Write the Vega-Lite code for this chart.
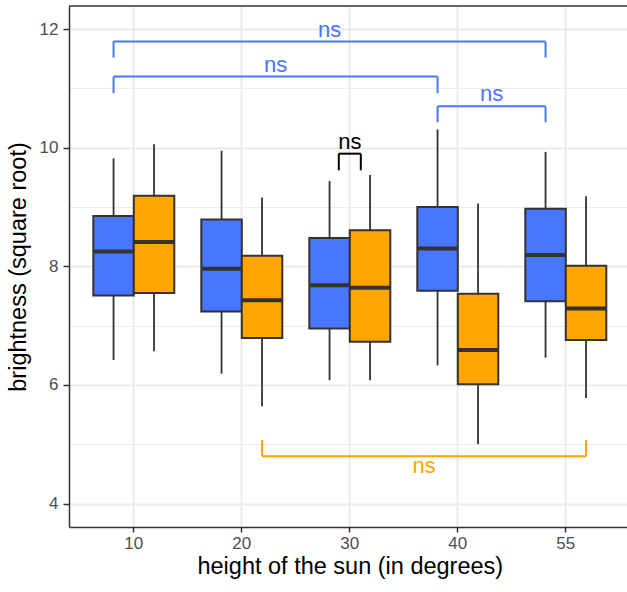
{
  "$schema": "https://vega.github.io/schema/vega-lite/v6.json",
  "width": 558,
  "height": 521,
  "autosize": {"type": "none"},
  "padding": {"left": 69, "top": 6, "right": 0, "bottom": 65},
  "background": "white",
  "config": {
    "font": "Liberation Sans",
    "view": {"stroke": null},
    "axis": {
      "domainColor": "#333333",
      "domainWidth": 1.5,
      "tickColor": "#333333",
      "tickWidth": 1.5,
      "labelColor": "#4D4D4D",
      "labelFontSize": 17,
      "titleFontSize": 23.5,
      "titleFontWeight": "normal",
      "titleColor": "#000000",
      "gridColor": "#EBEBEB"
    }
  },
  "datasets": {
    "boxes": [
      {"sun": "10", "group": "A", "lower": 6.42, "q1": 7.51, "median": 8.25, "q3": 8.85, "upper": 9.82},
      {"sun": "10", "group": "B", "lower": 6.57, "q1": 7.55, "median": 8.41, "q3": 9.19, "upper": 10.06},
      {"sun": "20", "group": "A", "lower": 6.19, "q1": 7.24, "median": 7.96, "q3": 8.79, "upper": 9.95},
      {"sun": "20", "group": "B", "lower": 5.64, "q1": 6.79, "median": 7.43, "q3": 8.18, "upper": 9.16},
      {"sun": "30", "group": "A", "lower": 6.08, "q1": 6.95, "median": 7.68, "q3": 8.48, "upper": 9.44},
      {"sun": "30", "group": "B", "lower": 6.08, "q1": 6.73, "median": 7.64, "q3": 8.61, "upper": 9.54},
      {"sun": "40", "group": "A", "lower": 6.33, "q1": 7.59, "median": 8.30, "q3": 9.00, "upper": 10.31},
      {"sun": "40", "group": "B", "lower": 5.00, "q1": 6.01, "median": 6.59, "q3": 7.54, "upper": 9.06},
      {"sun": "55", "group": "A", "lower": 6.46, "q1": 7.41, "median": 8.19, "q3": 8.97, "upper": 9.93},
      {"sun": "55", "group": "B", "lower": 5.78, "q1": 6.76, "median": 7.29, "q3": 8.01, "upper": 9.18}
    ],
    "brackets": [
      {"kind": "A", "from": "10", "to": "55", "ybar": 11.79, "yend": 11.52},
      {"kind": "A", "from": "10", "to": "40", "ybar": 11.20, "yend": 10.92},
      {"kind": "A", "from": "40", "to": "55", "ybar": 10.70, "yend": 10.43},
      {"kind": "AB", "from": "30", "to": "30", "ybar": 9.90, "yend": 9.62},
      {"kind": "B", "from": "20", "to": "55", "ybar": 4.80, "yend": 5.07}
    ],
    "labels": [
      {"kind": "A", "at": "30", "y": 11.79, "label": "ns", "spot": "inner"},
      {"kind": "A", "at": "20", "y": 11.20, "label": "ns", "spot": "between"},
      {"kind": "A", "at": "40", "y": 10.70, "label": "ns", "spot": "between"},
      {"kind": "AB", "at": "30", "y": 9.90, "label": "ns", "spot": "center"},
      {"kind": "B", "at": "40", "y": 4.80, "label": "ns", "spot": "early"}
    ]
  },
  "layer": [
    {
      "data": {"name": "boxes"},
      "mark": {"type": "rule", "color": "#333333", "strokeWidth": 1.8},
      "encoding": {
        "x": {
          "field": "sun", "type": "nominal", "title": "height of the sun (in degrees)",
          "scale": {"domain": ["10", "20", "30", "40", "55"], "range": [0, 561.6], "paddingInner": 0.25, "paddingOuter": 0.225},
          "axis": {"labelAngle": 0, "grid": true, "tickSize": 5, "labelPadding": 3, "titlePadding": 3, "gridWidth": 2, "bandPosition": 0.5, "labelFontSize": 17, "titleFontSize": 23.5}
        },
        "xOffset": {"field": "group", "type": "nominal", "scale": {"domain": ["A", "B"], "paddingInner": 0, "paddingOuter": 0}},
        "y": {
          "field": "lower", "type": "quantitative", "title": "brightness (square root)",
          "scale": {"domain": [3.605, 12.39], "nice": false, "zero": false},
          "axis": {
            "values": [4, 5, 6, 7, 8, 9, 10, 11, 12],
            "format": "d",
            "labelExpr": "datum.value % 2 === 0 ? datum.label : ''",
            "labelFontSize": 17,
            "titleFontSize": 23.5,
            "tickSize": 6,
            "labelPadding": 5,
            "titlePadding": 9,
            "tickOpacity": {"condition": {"test": "datum.value % 2 !== 0", "value": 0}, "value": 1},
            "gridWidth": {"condition": {"test": "datum.value % 2 !== 0", "value": 1.1}, "value": 2}
          }
        },
        "y2": {"field": "upper"}
      }
    },
    {
      "data": {"name": "boxes"},
      "mark": {"type": "bar", "stroke": "#333333", "strokeWidth": 2, "opacity": 1},
      "encoding": {
        "x": {"field": "sun", "type": "nominal", "title": "height of the sun (in degrees)"},
        "xOffset": {"field": "group", "type": "nominal"},
        "y": {"field": "q1", "type": "quantitative", "title": "brightness (square root)"},
        "y2": {"field": "q3"},
        "color": {
          "field": "group", "type": "nominal", "legend": null,
          "scale": {"domain": ["A", "B", "AB"], "range": ["#4876FF", "#FFA500", "#000000"]}
        }
      }
    },
    {
      "data": {"name": "boxes"},
      "mark": {"type": "bar", "fill": "#333333", "stroke": "#333333", "strokeWidth": 4},
      "encoding": {
        "x": {"field": "sun", "type": "nominal", "title": "height of the sun (in degrees)"},
        "xOffset": {"field": "group", "type": "nominal"},
        "y": {"field": "median", "type": "quantitative", "title": "brightness (square root)"},
        "y2": {"field": "median"}
      }
    },
    {
      "data": {"name": "brackets"},
      "transform": [{"filter": "datum.kind === 'A'"}],
      "layer": [
        {"mark": {"type": "rule", "color": "#4876FF", "strokeWidth": 2},
         "encoding": {"x": {"field": "from", "type": "nominal", "bandPosition": 0.25, "title": "height of the sun (in degrees)"}, "x2": {"field": "to", "bandPosition": 0.25}, "y": {"field": "ybar", "type": "quantitative", "title": "brightness (square root)"}}},
        {"mark": {"type": "rule", "color": "#4876FF", "strokeWidth": 2},
         "encoding": {"x": {"field": "from", "type": "nominal", "bandPosition": 0.25, "title": "height of the sun (in degrees)"}, "y": {"field": "ybar", "type": "quantitative", "title": "brightness (square root)"}, "y2": {"field": "yend"}}},
        {"mark": {"type": "rule", "color": "#4876FF", "strokeWidth": 2},
         "encoding": {"x": {"field": "to", "type": "nominal", "bandPosition": 0.25, "title": "height of the sun (in degrees)"}, "y": {"field": "ybar", "type": "quantitative", "title": "brightness (square root)"}, "y2": {"field": "yend"}}}
      ]
    },
    {
      "data": {"name": "brackets"},
      "transform": [{"filter": "datum.kind === 'B'"}],
      "layer": [
        {"mark": {"type": "rule", "color": "#FFA500", "strokeWidth": 2},
         "encoding": {"x": {"field": "from", "type": "nominal", "bandPosition": 0.75, "title": "height of the sun (in degrees)"}, "x2": {"field": "to", "bandPosition": 0.75}, "y": {"field": "ybar", "type": "quantitative", "title": "brightness (square root)"}}},
        {"mark": {"type": "rule", "color": "#FFA500", "strokeWidth": 2},
         "encoding": {"x": {"field": "from", "type": "nominal", "bandPosition": 0.75, "title": "height of the sun (in degrees)"}, "y": {"field": "ybar", "type": "quantitative", "title": "brightness (square root)"}, "y2": {"field": "yend"}}},
        {"mark": {"type": "rule", "color": "#FFA500", "strokeWidth": 2},
         "encoding": {"x": {"field": "to", "type": "nominal", "bandPosition": 0.75, "title": "height of the sun (in degrees)"}, "y": {"field": "ybar", "type": "quantitative", "title": "brightness (square root)"}, "y2": {"field": "yend"}}}
      ]
    },
    {
      "data": {"name": "brackets"},
      "transform": [{"filter": "datum.kind === 'AB'"}],
      "layer": [
        {"mark": {"type": "rule", "color": "#000000", "strokeWidth": 2},
         "encoding": {"x": {"field": "from", "type": "nominal", "bandPosition": 0.364, "title": "height of the sun (in degrees)"}, "x2": {"field": "to", "bandPosition": 0.636}, "y": {"field": "ybar", "type": "quantitative", "title": "brightness (square root)"}}},
        {"mark": {"type": "rule", "color": "#000000", "strokeWidth": 2},
         "encoding": {"x": {"field": "from", "type": "nominal", "bandPosition": 0.364, "title": "height of the sun (in degrees)"}, "y": {"field": "ybar", "type": "quantitative", "title": "brightness (square root)"}, "y2": {"field": "yend"}}},
        {"mark": {"type": "rule", "color": "#000000", "strokeWidth": 2},
         "encoding": {"x": {"field": "to", "type": "nominal", "bandPosition": 0.636, "title": "height of the sun (in degrees)"}, "y": {"field": "ybar", "type": "quantitative", "title": "brightness (square root)"}, "y2": {"field": "yend"}}}
      ]
    },
    {
      "data": {"name": "labels"},
      "transform": [{"filter": "datum.spot === 'inner'"}],
      "mark": {"type": "text", "fontSize": 22, "baseline": "bottom", "color": "#4876FF"},
      "encoding": {
        "x": {"field": "at", "type": "nominal", "bandPosition": 0.25, "title": "height of the sun (in degrees)"},
        "y": {"field": "y", "type": "quantitative", "title": "brightness (square root)"},
        "text": {"field": "label"}
      }
    },
    {
      "data": {"name": "labels"},
      "transform": [{"filter": "datum.spot === 'between'"}],
      "mark": {"type": "text", "fontSize": 22, "baseline": "bottom", "color": "#4876FF"},
      "encoding": {
        "x": {"field": "at", "type": "nominal", "bandPosition": 0.917, "title": "height of the sun (in degrees)"},
        "y": {"field": "y", "type": "quantitative", "title": "brightness (square root)"},
        "text": {"field": "label"}
      }
    },
    {
      "data": {"name": "labels"},
      "transform": [{"filter": "datum.spot === 'center'"}],
      "mark": {"type": "text", "fontSize": 22, "baseline": "bottom", "color": "#000000"},
      "encoding": {
        "x": {"field": "at", "type": "nominal", "bandPosition": 0.5, "title": "height of the sun (in degrees)"},
        "y": {"field": "y", "type": "quantitative", "title": "brightness (square root)"},
        "text": {"field": "label"}
      }
    },
    {
      "data": {"name": "labels"},
      "transform": [{"filter": "datum.spot === 'early'"}],
      "mark": {"type": "text", "fontSize": 22, "baseline": "top", "color": "#FFA500"},
      "encoding": {
        "x": {"field": "at", "type": "nominal", "bandPosition": 0.083, "title": "height of the sun (in degrees)"},
        "y": {"field": "y", "type": "quantitative", "title": "brightness (square root)"},
        "text": {"field": "label"}
      }
    },
    {
      "data": {"values": [{"edge": 12.39}]},
      "mark": {"type": "rule", "color": "#333333", "strokeWidth": 1.5},
      "encoding": {"y": {"field": "edge", "type": "quantitative", "title": "brightness (square root)"}}
    }
  ]
}
